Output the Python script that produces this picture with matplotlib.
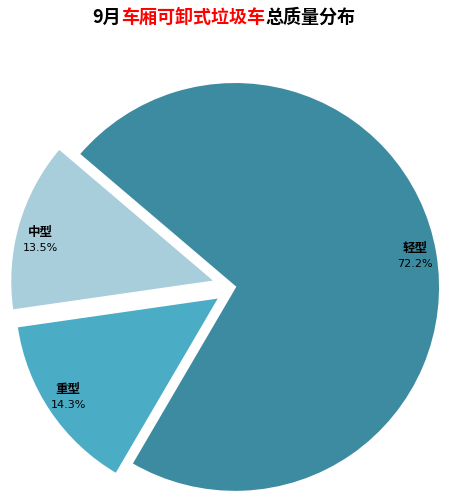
import numpy as np
import matplotlib
matplotlib.use('Agg')
import matplotlib.pyplot as plt

plt.rcParams['font.family'] = ['Noto Sans CJK SC', 'DejaVu Sans']

categories = ['中型', '重型', '轻型']
shares = [13.5, 14.3, 72.2]
colors = ['#A8CDDB', '#4BACC6', '#3D8BA1']
explode = [0.1, 0.09, 0.0]

fig = plt.figure(figsize=(4.61, 4.96), dpi=100)
ax = fig.add_axes([0, 0, 1, 1])
ax.axis('off')

wedges, _ = ax.pie(shares, colors=colors, explode=explode, startangle=139.6,
                   counterclock=True, radius=1.0,
                   wedgeprops=dict(edgecolor='white', linewidth=1.5))
ax.set_xlim(-1.146, 1.102)
ax.set_ylim(-1.02, 1.40)
ax.set_aspect('auto')

# labels inside the wedges (small nudges to match excel placement)
nudge = [(0.0, -0.055), (0.0, 0.0), (0.0, -0.01)]
for w, name, val, (dx, dy) in zip(wedges, categories, shares, nudge):
    mid = np.deg2rad((w.theta1 + w.theta2) / 2)
    cx, cy = w.center
    x = cx + 0.89 * np.cos(mid) + dx
    y = cy + 0.89 * np.sin(mid) + dy
    ax.text(x, y + 0.015, name, ha='center', va='bottom', fontsize=9,
            fontweight='bold', color='black')
    ax.text(x, y - 0.005, '%.1f%%' % val, ha='center', va='top', fontsize=8,
            color='black', family=['DejaVu Sans'])

# title with red middle part
parts = [('9月', 'black'), ('车厢可卸式垃圾车', '#FF0000'), ('总质量分布', 'black')]
renderer = fig.canvas.get_renderer()
texts = []
for s, c in parts:
    t = fig.text(0, 0.965, s, color=c, fontsize=13, fontweight='bold', va='center')
    texts.append(t)
widths = [t.get_window_extent(renderer).width for t in texts]
total = sum(widths)
x0 = 224 - total / 2
for t, wd in zip(texts, widths):
    t.set_x(x0 / 461)
    x0 += wd

plt.savefig('out.png', dpi=100)
